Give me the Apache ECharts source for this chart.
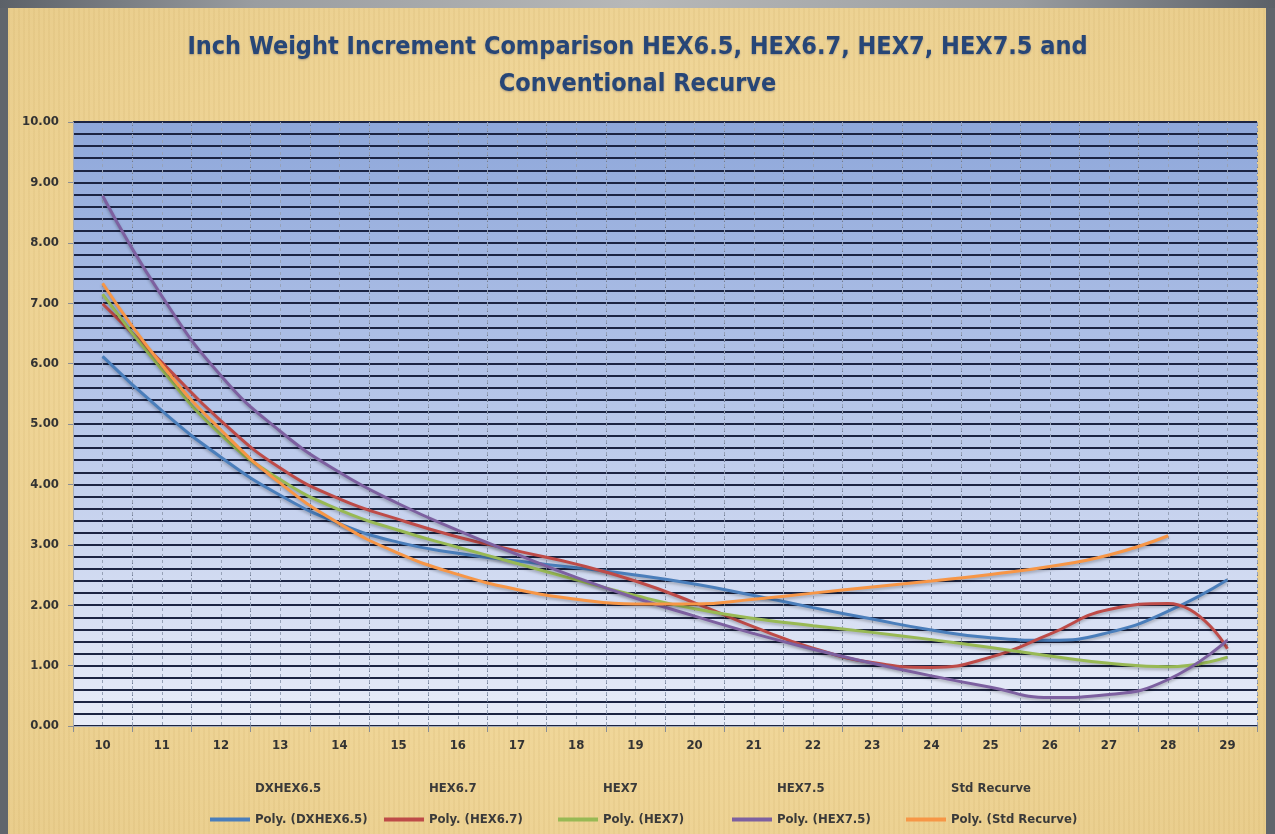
<!DOCTYPE html>
<html><head><meta charset="utf-8">
<script src="https://cdn.jsdelivr.net/npm/echarts@6/dist/echarts.min.js"></script>
<style>
html,body{margin:0;padding:0;width:1275px;height:834px;overflow:hidden;background:#60656c;}
#frame{position:absolute;left:8px;top:8px;width:1258px;height:826px;
 background:
  repeating-linear-gradient(90deg, rgba(170,130,50,0.07) 0px, rgba(170,130,50,0.07) 2px, rgba(255,255,255,0) 2px, rgba(255,255,255,0) 5px),
  radial-gradient(ellipse at 50% 50%, #f4dea6 0%, #efd597 60%, #e9cd8c 100%);}
#topband{position:absolute;left:0;top:0;width:1275px;height:8px;background:linear-gradient(90deg,#5c6168,#9a9da0 20%,#b7b8b8 50%,#9a9da0 80%,#5c6168);}
#chart{position:absolute;left:0;top:0;width:1275px;height:834px;}
</style></head>
<body>
<div id="topband"></div>
<div id="frame"></div>
<div id="chart"></div>
<script>
const categories = ['10','11','12','13','14','15','16','17','18','19','20','21','22','23','24','25','26','27','28','29'];
const dxhex65   = [6.12,5.22,4.45,3.82,3.35,3.04,2.86,2.73,2.62,2.50,2.35,2.16,1.96,1.77,1.59,1.46,1.42,1.55,1.90,2.42];
const hex67     = [6.99,6.02,5.05,4.27,3.76,3.42,3.13,2.90,2.68,2.40,2.04,1.64,1.29,1.05,0.97,1.14,1.52,1.93,2.03,1.28];
const hex7      = [7.15,5.90,4.82,4.08,3.58,3.24,2.96,2.69,2.42,2.16,1.94,1.78,1.66,1.55,1.43,1.30,1.16,1.04,0.98,1.14];
const hex75     = [8.78,7.12,5.80,4.88,4.20,3.68,3.24,2.84,2.46,2.12,1.82,1.53,1.27,1.04,0.83,0.64,0.47,0.52,0.77,1.42];
const stdRecurve= [7.33,5.98,4.90,4.02,3.35,2.86,2.51,2.26,2.10,2.02,2.02,2.10,2.20,2.30,2.40,2.51,2.64,2.83,3.15,null];
const dataNames = ['DXHEX6.5','HEX6.7','HEX7','HEX7.5','Std Recurve'];
const polyNames = ['Poly. (DXHEX6.5)','Poly. (HEX6.7)','Poly. (HEX7)','Poly. (HEX7.5)','Poly. (Std Recurve)'];
const colors = ['#4A7EBB','#BE4B48','#98B954','#7D60A0','#F79646'];
const halfSteps = categories.flatMap(c => [c + 'a', c + 'b']);
const values = [dxhex65, hex67, hex7, hex75, stdRecurve];

const FONT = "'Liberation Sans Narrow','DejaVu Sans Condensed','Liberation Sans',sans-serif";
const chart = echarts.init(document.getElementById('chart'));

const series = [];
dataNames.forEach((n) => series.push({name: n, type: 'line', data: [], symbol: 'none', lineStyle: {opacity: 0}}));
polyNames.forEach((n, i) => series.push({
  name: n, type: 'line', data: values[i], smooth: true, symbol: 'none',
  itemStyle: {color: colors[i]},
  lineStyle: {color: colors[i], width: 3, shadowColor: 'rgba(0,0,0,0.25)', shadowBlur: 3, shadowOffsetY: 2},
  z: 3
}));

const legendText = {fontFamily: FONT, fontSize: 13, fontWeight: 'bold', color: '#3a3a3a'};
const legends = [];
dataNames.forEach((n, i) => legends.push({data: [n], left: 205 + i * 174, top: 777, itemWidth: 40, itemHeight: 4,
  icon: 'rect', itemStyle: {color: 'rgba(0,0,0,0)', opacity: 0}, selectedMode: false, textStyle: legendText}));
polyNames.forEach((n, i) => legends.push({data: [n], left: 205 + i * 174, top: 808, itemWidth: 40, itemHeight: 4,
  icon: 'rect', selectedMode: false, textStyle: legendText}));

chart.setOption({
  animation: false,
  backgroundColor: 'transparent',
  title: {
    text: 'Inch Weight Increment Comparison HEX6.5, HEX6.7, HEX7, HEX7.5 and\nConventional Recurve',
    left: 'center', top: 24,
    textStyle: {fontFamily: FONT, fontSize: 25, fontWeight: 'bold', color: '#274677', lineHeight: 37,
      textShadowColor: 'rgba(60,60,90,0.35)', textShadowBlur: 2, textShadowOffsetY: 1}
  },
  legend: legends,
  grid: {left: 73, right: 18, top: 122, bottom: 108, show: true, borderWidth: 0,
    backgroundColor: new echarts.graphic.LinearGradient(0, 0, 0, 1, [
      {offset: 0, color: '#8ea7da'}, {offset: 0.5, color: '#b9c8ea'}, {offset: 1, color: '#e8ecf8'}])},
  xAxis: [
    {type: 'category', data: categories, boundaryGap: true, position: 'bottom',
     axisLine: {show: true, lineStyle: {color: '#a9adb5', width: 1}},
     axisTick: {show: true, length: 6, interval: 0, lineStyle: {color: '#8a8e96'}},
     axisLabel: {interval: 0, margin: 13, fontFamily: FONT, fontSize: 13, fontWeight: 'bold', color: '#333333'},
     splitLine: {show: true, interval: 0, lineStyle: {color: '#6f7a92', type: [4, 2], width: 1}}},
    {type: 'category', data: halfSteps, boundaryGap: true, position: 'bottom',
     axisLine: {show: false}, axisTick: {show: false}, axisLabel: {show: false},
     splitLine: {show: true, interval: 0, lineStyle: {color: '#97a2b8', type: [3, 3], width: 1}}}
  ],
  yAxis: {type: 'value', min: 0, max: 10, interval: 1,
    axisLine: {show: true, lineStyle: {color: '#a9adb5'}},
    axisTick: {show: true, length: 5, lineStyle: {color: '#8a8e96'}},
    axisLabel: {margin: 14, formatter: v => v.toFixed(2), fontFamily: FONT, fontSize: 13, fontWeight: 'bold', color: '#333333'},
    splitLine: {show: true, lineStyle: {color: '#1c2443', width: 2}},
    minorTick: {show: false, splitNumber: 5},
    minorSplitLine: {show: true, lineStyle: {color: '#1c2443', width: 2}}
  },
  series: series
});
</script>
</body></html>
